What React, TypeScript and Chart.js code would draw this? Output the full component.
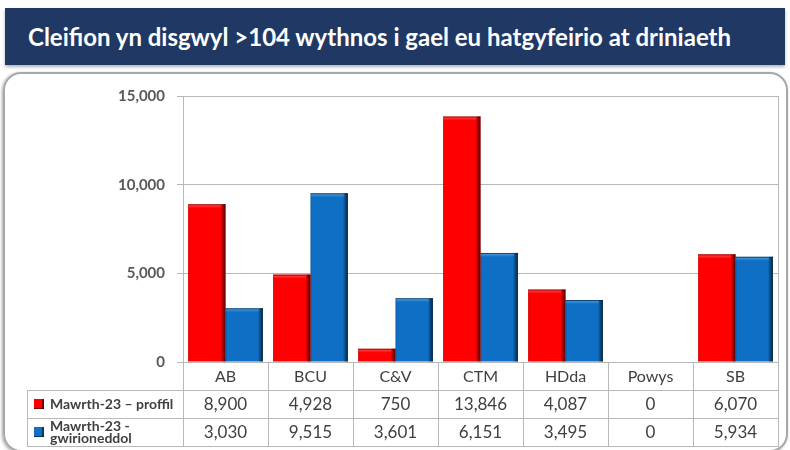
import React, { useEffect, useRef } from "react";
import { Chart, registerables } from "chart.js";
Chart.register(...registerables);

const title = "Cleifion yn disgwyl >104 wythnos i gael eu hatgyfeirio at driniaeth";
const categories = ["AB", "BCU", "C&V", "CTM", "HDda", "Powys", "SB"];
const proffil = [8900, 4928, 750, 13846, 4087, 0, 6070];
const gwirioneddol = [3030, 9515, 3601, 6151, 3495, 0, 5934];
const yTicks = [0, 5000, 10000, 15000];
const seriesLabels = [["Mawrth-23 – proffil"], ["Mawrth-23 -", "gwirioneddol"]];
const seriesColors = ["#FF0000", "#0E6FC4"];

const FONT = "Lato, 'Open Sans', sans-serif";
const LINE = "#B8B8B8";
const fmt = (v: number) => v.toLocaleString("en-US");

const bevelPlugin = {
  id: "bevel",
  afterDatasetsDraw(chart: any) {
    const ctx = chart.ctx;
    ctx.save();
    chart.data.datasets.forEach((_: any, d: number) => {
      const meta = chart.getDatasetMeta(d);
      meta.data.forEach((el: any) => {
        const { x, y, base, width } = el.getProps(["x", "y", "base", "width"], true);
        const h = base - y;
        if (h < 1) return;
        const l = x - width / 2;
        const r = x + width / 2;
        const g = ctx.createLinearGradient(r - 5, 0, r, 0);
        g.addColorStop(0, "rgba(0,0,0,0)");
        g.addColorStop(1, "rgba(0,0,0,0.7)");
        ctx.fillStyle = g;
        ctx.fillRect(r - 5, y, 5, h);
        const g2 = ctx.createLinearGradient(0, y, 0, y + 4);
        g2.addColorStop(0, "rgba(255,255,255,0.35)");
        g2.addColorStop(1, "rgba(255,255,255,0)");
        ctx.fillStyle = g2;
        ctx.fillRect(l, y + 1, width - 4, 4);
        ctx.fillStyle = "rgba(0,0,0,0.35)";
        ctx.fillRect(l, y, width, 1);
        ctx.fillStyle = "rgba(0,0,0,0.15)";
        ctx.fillRect(l, y, 1, h);
      });
    });
    ctx.restore();
  },
};

const tablePlugin = {
  id: "dataTable",
  afterDraw(chart: any) {
    const ctx = chart.ctx;
    const a = chart.chartArea;
    const n = categories.length;
    const cw = (a.right - a.left) / n;
    const top = a.bottom;
    const headH = 28;
    const rowH = 28;
    const r1 = top + headH;
    const r2 = r1 + rowH;
    const bottom = r2 + rowH;
    const legLeft = 27;
    ctx.save();
    ctx.strokeStyle = LINE;
    ctx.lineWidth = 1;
    ctx.beginPath();
    ctx.moveTo(Math.round(a.right) + 0.5, a.top);
    ctx.lineTo(Math.round(a.right) + 0.5, a.bottom);
    ctx.stroke();
    for (let i = 0; i <= n; i++) {
      const x = Math.round(a.left + i * cw) + 0.5;
      ctx.beginPath();
      ctx.moveTo(x, top);
      ctx.lineTo(x, bottom);
      ctx.stroke();
    }
    ctx.beginPath();
    ctx.moveTo(legLeft + 0.5, r1);
    ctx.lineTo(legLeft + 0.5, bottom);
    ctx.stroke();
    [r1, r2, bottom].forEach((yy) => {
      ctx.beginPath();
      ctx.moveTo(legLeft, Math.round(yy) + 0.5);
      ctx.lineTo(a.right + 1, Math.round(yy) + 0.5);
      ctx.stroke();
    });
    ctx.fillStyle = "#404040";
    ctx.textAlign = "center";
    ctx.textBaseline = "middle";
    ctx.font = `16px ${FONT}`;
    categories.forEach((c, i) => {
      ctx.fillText(c, a.left + (i + 0.5) * cw, top + headH / 2 + 1);
    });
    ctx.font = `17px ${FONT}`;
    [proffil, gwirioneddol].forEach((arr, s) => {
      const yc = (s === 0 ? r1 : r2) + rowH / 2 + 1;
      arr.forEach((v, i) => {
        ctx.fillText(fmt(v), a.left + (i + 0.5) * cw, yc);
      });
    });
    ctx.textAlign = "left";
    ctx.font = `bold 14px ${FONT}`;
    seriesLabels.forEach((lines, s) => {
      const yc = (s === 0 ? r1 : r2) + rowH / 2;
      ctx.fillStyle = seriesColors[s];
      ctx.fillRect(34, yc - 5, 10, 10);
      ctx.fillStyle = "rgba(0,0,0,0.5)";
      ctx.fillRect(42, yc - 5, 2, 10);
      ctx.fillRect(34, yc + 4, 10, 1);
      ctx.fillStyle = "#404040";
      if (lines.length === 1) {
        ctx.fillText(lines[0], 50, yc);
      } else {
        ctx.fillText(lines[0], 50, yc - 6);
        ctx.fillText(lines[1], 50, yc + 6);
      }
    });
    ctx.restore();
  },
};

export default function App() {
  const ref = useRef<HTMLCanvasElement>(null);
  useEffect(() => {
    document.body.style.margin = "0";
    const chart = new Chart(ref.current!, {
      type: "bar",
      data: {
        labels: categories,
        datasets: [
          { label: seriesLabels[0].join(" "), data: proffil, backgroundColor: seriesColors[0], borderWidth: 0 },
          { label: seriesLabels[1].join(" "), data: gwirioneddol, backgroundColor: seriesColors[1], borderWidth: 0 },
        ],
      },
      options: {
        animation: false,
        responsive: false,
        layout: { padding: { left: 0, right: 12, top: 96, bottom: 88 } },
        plugins: { legend: { display: false }, tooltip: { enabled: false } },
        datasets: { bar: { categoryPercentage: 0.88, barPercentage: 1 } },
        scales: {
          x: { display: false },
          y: {
            min: 0,
            max: 15000,
            afterFit: (s: any) => {
              s.width = 183;
            },
            afterBuildTicks: (s: any) => {
              s.ticks = yTicks.map((v) => ({ value: v }));
            },
            ticks: {
              callback: (v: any) => fmt(Number(v)),
              font: { family: FONT, size: 15, weight: "bold" },
              color: "#595959",
              padding: 12,
            },
            grid: { color: LINE, tickLength: 6, lineWidth: 1 },
            border: { color: LINE },
          },
        },
      },
      plugins: [bevelPlugin, tablePlugin],
    } as any);
    return () => chart.destroy();
  }, []);

  return (
    <div style={{ position: "fixed", left: 0, top: 0, width: 790, height: 450, background: "#fff", overflow: "hidden" }}>
      <div
        style={{
          position: "absolute",
          left: 5,
          top: 8,
          width: 780,
          height: 57,
          background: "#1F3864",
          boxShadow: "0 2px 3px rgba(0,0,0,0.3)",
          color: "#fff",
          fontFamily: FONT,
          fontSize: 24,
          fontWeight: "bold",
          lineHeight: "57px",
          paddingLeft: 23,
          boxSizing: "border-box",
          whiteSpace: "nowrap",
        }}
      >
        {title}
      </div>
      <div
        style={{
          position: "absolute",
          left: 3,
          top: 72,
          width: 785,
          height: 380,
          border: "2px solid #A8A8A8",
          borderRadius: 18,
          boxSizing: "border-box",
          boxShadow: "-1px 1px 3px rgba(0,0,0,0.35)",
        }}
      />
      <canvas ref={ref} width={790} height={450} style={{ position: "absolute", left: 0, top: 0 }} />
    </div>
  );
}
